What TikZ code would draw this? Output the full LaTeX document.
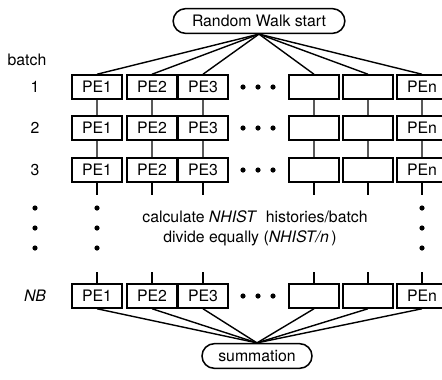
\documentclass[tikz,border=0pt]{standalone}
\usepackage{fontspec}
\setmainfont{TeX Gyre Heros}
\usetikzlibrary{shapes.misc}

\begin{document}
\begin{tikzpicture}[scale=0.03]
        \tikzstyle{every node}+=[inner sep=0pt, font=\fontsize{13.5}{15}\selectfont]
        \tikzstyle{pebox}=[draw, line width=1.3pt, minimum width=1.5cm, minimum height=0.72cm]
        \tikzstyle{term}=[draw, line width=1.3pt, rounded rectangle, minimum height=0.74cm]
        \tikzstyle{wire}=[line width=1.2pt]
        \useasboundingbox (0,0) rectangle (442,-379);
        \node [term, minimum width=5.15cm] (start) at (259,-21) {Random Walk start};
        \node [term, minimum width=3.3cm] (sum) at (257,-356) {summation};
        \node (batch) at (27,-60) {batch};
        % one row of processors per batch
        \foreach \r/\y/\lab in {1/-87/1, 2/-128/2, 3/-170/3, 4/-296/\textit{NB}} {
          \node (lab\r) at (35,\y) {\lab};
          \node [pebox] (a\r) at (97,\y) {PE1};
          \node [pebox] (b\r) at (152,\y) {PE2};
          \node [pebox] (c\r) at (203,\y) {PE3};
          \node [pebox] (d\r) at (314,\y) {};
          \node [pebox] (e\r) at (368,\y) {};
          \node [pebox] (f\r) at (422,\y) {PEn};
          \fill (243,\y) circle (2.6) (258,\y) circle (2.6) (273,\y) circle (2.6);
        }
        \foreach \n in {a,b,c,d,e,f} {
          \draw [wire] (start.south) -- (\n1.north);
          \draw [wire] (\n1) -- (\n2);
          \draw [wire] (\n2) -- (\n3);
          \draw [wire] (\n3.south) -- ++(0,-12);
          \draw [wire] (\n4.north) -- ++(0,11);
          \draw [wire] (\n4.south) -- (sum.north);
        }
        % the batches in between
        \foreach \x in {35,97,422}
          \fill (\x,-208) circle (2.6) (\x,-228) circle (2.6) (\x,-248) circle (2.6);
        \node (calc) at (255,-217) {calculate \textit{NHIST}\ \ histories/batch};
        \node (divide) at (250,-238) {divide equally (\textit{NHIST/n}\,)};
\end{tikzpicture}
\end{document}
